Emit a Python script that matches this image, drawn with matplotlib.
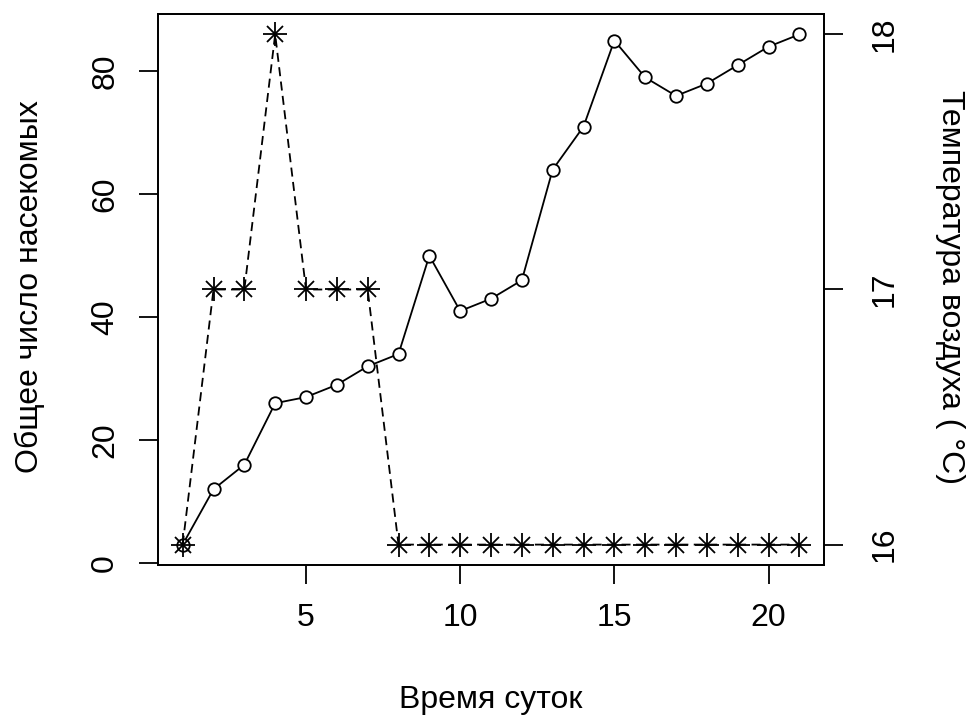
import matplotlib
matplotlib.use("Agg")
import matplotlib.pyplot as plt

plt.rcParams['font.family'] = ['Liberation Sans', 'DejaVu Sans']

# data
hours = list(range(1, 22))
insects = [3, 12, 16, 26, 27, 29, 32, 34, 50, 41, 43, 46, 64, 71, 85, 79, 76, 78, 81, 84, 86]
temperature = [16, 17, 17, 18, 17, 17, 17, 16, 16, 16, 16, 16, 16, 16, 16, 16, 16, 16, 16, 16, 16]

x_ticks = [5, 10, 15, 20]
left_ticks = [0, 20, 40, 60, 80]
right_ticks = [16, 17, 18]

W, H = 971, 722
fs = 23
lw = 1.3

fig = plt.figure(figsize=(W / 100, H / 100), dpi=100)
# plot box in pixels: left 158, right 824, top 14, bottom 565
ax = fig.add_axes([158 / W, 1 - 565 / H, (824 - 158) / W, (565 - 14) / H])

# insects: solid line with open circles
ax.plot(hours, insects, color='black', lw=lw, marker='o', markersize=9,
        markerfacecolor='white', markeredgecolor='black', markeredgewidth=lw)

# R-style 4% padding of the ranges
def padded(vals):
    lo, hi = min(vals), max(vals)
    d = (hi - lo) * 0.04
    return lo - d, hi + d

ax.set_xlim(*padded(hours))
ax.set_ylim(*padded(insects))
ax.set_xticks(x_ticks)
ax.set_yticks(left_ticks)
ax.set_xticklabels([str(t) for t in x_ticks], fontsize=fs)
ax.set_yticklabels([str(t) for t in left_ticks], fontsize=fs, rotation=90, va='center')
ax.tick_params(axis='x', length=13.7, width=lw, pad=14)
ax.tick_params(axis='y', length=13.7, width=lw, pad=13.5)
for sp in ax.spines.values():
    sp.set_linewidth(lw)

# temperature: dashed line with asterisks on the right axis
ax2 = ax.twinx()
ax2.plot(hours, temperature, color='black', lw=lw, dashes=(5, 3))
ax2.plot(hours, temperature, ls='none', marker='+', markersize=17.5,
         markeredgewidth=lw, color='black')
ax2.plot(hours, temperature, ls='none', marker='x', markersize=12,
         markeredgewidth=lw, color='black')
ax2.set_ylim(*padded(temperature))
ax2.set_yticks(right_ticks)
ax2.set_yticklabels([str(t) for t in right_ticks], fontsize=fs, rotation=90, va='center')
ax2.tick_params(axis='y', length=13.7, width=lw, pad=19)
for sp in ax2.spines.values():
    sp.set_linewidth(lw)

# axis titles
fig.text(491 / W, 1 - 700 / H, 'Время суток', fontsize=fs, ha='center', va='center')
fig.text(30 / W, 1 - 287 / H, 'Общее число насекомых', fontsize=fs,
         ha='center', va='center', rotation=90)
fig.text(950 / W, 1 - 287 / H, 'Температура воздуха ( °C)', fontsize=fs,
         ha='center', va='center', rotation=270)

fig.savefig('out.png', dpi=100)
plt.close(fig)
